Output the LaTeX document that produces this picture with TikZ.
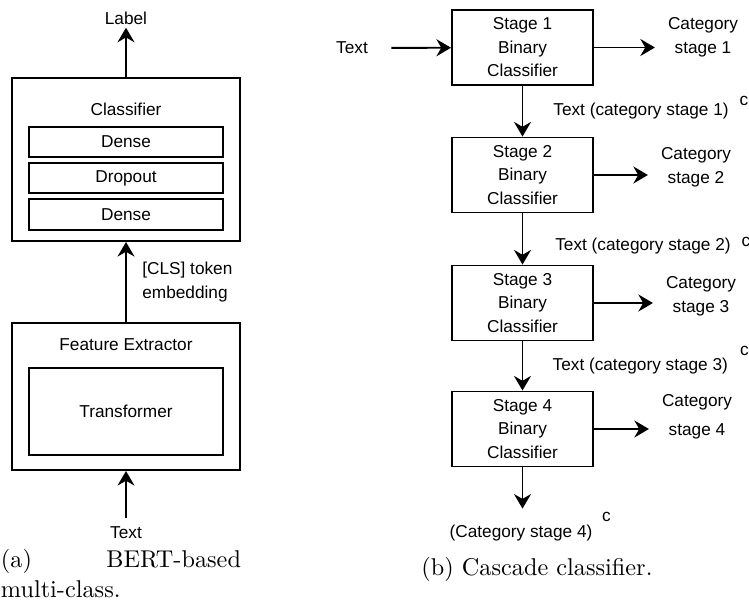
\documentclass[tikz,border=0pt]{standalone}
\usepackage{fontspec}
\usepackage{tikz}
\usetikzlibrary{arrows.meta}
\newfontfamily\diagfont{Liberation Sans}
\newcommand\supc[2]{\rlap{\hspace{#1}\raisebox{#2}[0pt][0pt]{c}}}

\begin{document}
\begin{tikzpicture}[x=0.412pt,y=-0.412pt,
	font=\diagfont\fontsize{7.1}{9.7}\selectfont,
	line width=0.8pt,
	arr/.style={-{Stealth[length=6pt,width=7pt,inset=2pt]}},
	outerbox/.style={draw,minimum width=93.9pt,inner sep=0pt},
	layerbox/.style={draw,minimum width=79.9pt,minimum height=12.4pt,inner sep=0pt},
	stagebox/.style={draw,align=center,minimum width=58.1pt,minimum height=30.9pt,inner sep=0pt},
	catnode/.style={align=center,inner xsep=5pt},
	capfont/.style={font=\rmfamily\fontsize{10}{12.4}\selectfont,inner sep=0pt}]
			\useasboundingbox (0,0) rectangle (749,604);
			% BERT-based multi-class
			\node[outerbox,minimum height=67.2pt] (clsf) at (126,159.5) {};
			\node (clsftitle) at (126,109) {Classifier};
			\node[layerbox] (dense1) at (126,142) {Dense};
			\node[layerbox] (drop) at (126,178) {Dropout};
			\node[layerbox] (dense2) at (126,214.5) {Dense};
			\node[outerbox,minimum height=60.6pt] (feat) at (126,396.5) {};
			\node (feattitle) at (126,345) {Feature Extractor};
			\node[draw,minimum width=79.9pt,minimum height=35.8pt,inner sep=0pt] (trf) at (126,411.5) {Transformer};
			\node[inner sep=1pt] (lbl) at (126,18) {Label};
			\node (txta) at (126,533) {Text};
			\draw[arr] (clsf) -- (lbl);
			\draw[arr] (feat) -- (clsf) node[midway,right=3pt,align=left] {[CLS] token\\embedding};
			\draw[arr] (txta) -- (feat);
			\node[capfont,text width=98.9pt,anchor=base west] (capa) at (0,567) {(a)\hfill BERT-based\\multi-class.};
			% Cascade classifier
			\node (txtb) at (352,48) {Text};
			\foreach \i/\y in {1/47.5,2/175,3/303,4/429}
			\node[stagebox] (st\i) at (522.5,\y) {Stage \i\\Binary\\Classifier};
			\foreach \i/\x/\y/\g in {1/703/37/0pt,2/696/167/0pt,3/701/296/0pt,4/697/417/2.3pt}
			{
				\node[catnode] (cat\i) at (\x,\y) {Category\\[\g]stage \i};
				\draw[arr] (st\i.east) -- (st\i.east -| cat\i.west);
			}
			\draw[arr,shorten <=6pt] (txtb) -- (st1);
			\draw[arr] (st1) -- (st2) node[midway,right=9pt] {Text (category stage 1)\supc{4.5pt}{4pt}};
			\draw[arr] (st2) -- (st3) node[midway,right=9.8pt,yshift=-3pt] {Text (category stage 2)\supc{4.5pt}{1.6pt}};
			\draw[arr] (st3) -- (st4) node[midway,right=8.7pt] {Text (category stage 3)\supc{5pt}{6.2pt}};
			\node (fin) at (521,533) {(Category stage 4)\supc{4pt}{6.6pt}};
			\draw[arr,shorten >=3pt] (st4.south) -- (st4.south |- fin.north);
			\node[capfont,anchor=base] (capb) at (537,575) {(b) Cascade classifier.};
		\end{tikzpicture}
\end{document}
